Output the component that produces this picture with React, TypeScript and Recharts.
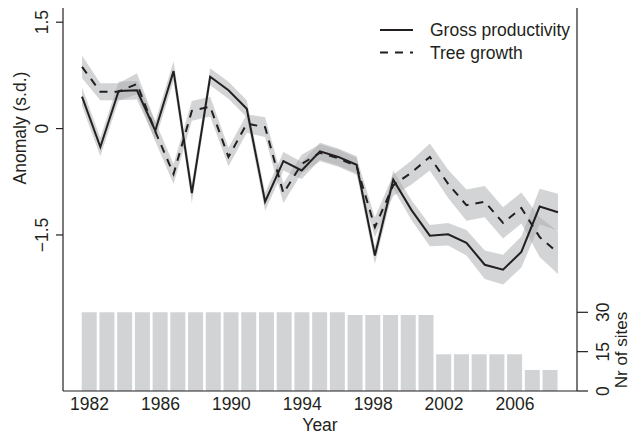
import React from 'react';
import { ComposedChart, Bar, Area, Line, XAxis, YAxis } from 'recharts';

// years on the x axis
const years = [
  1982, 1983, 1984, 1985, 1986, 1987, 1988, 1989, 1990, 1991, 1992, 1993, 1994, 1995,
  1996, 1997, 1998, 1999, 2000, 2001, 2002, 2003, 2004, 2005, 2006, 2007, 2008
];

// gross productivity anomaly (s.d.) and its band
const gpp = [
  0.45, -0.26, 0.53, 0.54, -0.03, 0.81, -0.91, 0.73, 0.54, 0.28, -1.03, -0.46, -0.59, -0.32,
  -0.4, -0.51, -1.79, -0.72, -1.15, -1.51, -1.49, -1.61, -1.92, -1.99, -1.74, -1.1, -1.18
];
const gppLow = [
  0.32, -0.39, 0.4, 0.41, -0.16, 0.67, -1.05, 0.61, 0.42, 0.16, -1.16, -0.59, -0.71, -0.44,
  -0.52, -0.63, -1.91, -0.85, -1.29, -1.66, -1.65, -1.79, -2.12, -2.2, -1.96, -1.35, -1.44
];
const gppHigh = [
  0.58, -0.13, 0.66, 0.67, 0.1, 0.95, -0.77, 0.85, 0.66, 0.4, -0.9, -0.33, -0.47, -0.2,
  -0.28, -0.39, -1.67, -0.59, -1.01, -1.36, -1.33, -1.43, -1.72, -1.78, -1.52, -0.85, -0.92
];

// tree growth anomaly (s.d.) and its band
const tree = [
  0.87, 0.52, 0.52, 0.63, -0.04, -0.64, 0.25, 0.31, -0.4, 0.07, 0.02, -0.91, -0.5, -0.34,
  -0.42, -0.53, -1.39, -0.8, -0.62, -0.4, -0.78, -1.08, -1.03, -1.33, -1.12, -1.53, -1.75
];
const treeLow = [
  0.71, 0.4, 0.4, 0.48, -0.18, -0.78, 0.11, 0.17, -0.53, -0.06, -0.12, -1.05, -0.63, -0.46,
  -0.54, -0.65, -1.53, -0.95, -0.79, -0.59, -0.98, -1.3, -1.25, -1.55, -1.34, -1.81, -2.05
];
const treeHigh = [
  1.03, 0.64, 0.64, 0.78, 0.1, -0.5, 0.39, 0.45, -0.27, 0.2, 0.16, -0.77, -0.37, -0.22,
  -0.3, -0.41, -1.25, -0.65, -0.45, -0.21, -0.58, -0.86, -0.81, -1.11, -0.9, -1.25, -1.45
];

// number of sites per year
const sites = [
  30, 30, 30, 30, 30, 30, 30, 30, 30, 30, 30, 30, 30, 30, 30,
  29, 29, 29, 29, 29, 14, 14, 14, 14, 14, 8, 8
];

const yearTicks = [1982, 1986, 1990, 1994, 1998, 2002, 2006];
const anomalyTicks = [-1.5, 0, 1.5];
const siteTicks = [0, 15, 30];

const data = years.map((year, i) => ({
  year,
  gpp: gpp[i],
  tree: tree[i],
  gppBand: [gppLow[i], gppHigh[i]],
  treeBand: [treeLow[i], treeHigh[i]],
  sites: sites[i]
}));

const INK = '#231f20';
const FONT = '"Liberation Sans", Arial, Helvetica, sans-serif';
const FS = 17.5;

const fmt = (v: number) => (v < 0 ? `\u2212${Math.abs(v)}` : `${v}`);

const LeftTick = ({ y, payload }: any) => (
  <text
    x={42}
    y={y}
    transform={`rotate(-90, 42, ${y})`}
    textAnchor="middle"
    dominantBaseline="central"
    fontFamily={FONT}
    fontSize={FS}
    fill={INK}
  >
    {fmt(payload.value)}
  </text>
);

const RightTick = ({ y, payload }: any) => (
  <text
    x={603}
    y={y}
    transform={`rotate(-90, 603, ${y})`}
    textAnchor="middle"
    dominantBaseline="central"
    fontFamily={FONT}
    fontSize={FS}
    fill={INK}
  >
    {payload.value}
  </text>
);

const BottomTick = ({ x, payload }: any) => (
  <text x={x} y={410} textAnchor="middle" fontFamily={FONT} fontSize={FS} fill={INK}>
    {payload.value}
  </text>
);

const App = () => {
  return (
    <div style={{ position: 'absolute', left: 0, top: 0, width: 632, height: 436, background: '#fff' }}>
      <ComposedChart width={632} height={436} data={data} margin={{ top: 8, right: 0, bottom: 0, left: 0 }}>
        <XAxis
          xAxisId="bars"
          dataKey="year"
          type="number"
          domain={[1980.5, 2009.5]}
          allowDataOverflow
          ticks={yearTicks}
          tick={<BottomTick />}
          tickLine={false}
          height={45}
          axisLine={{ stroke: INK, strokeWidth: 1.2 }}
        />
        <XAxis
          xAxisId="lines"
          dataKey="year"
          type="number"
          domain={[1980.96, 2009.04]}
          allowDataOverflow
          hide
        />
        <XAxis
          xAxisId="top"
          orientation="top"
          dataKey="year"
          type="number"
          domain={[1980.5, 2009.5]}
          allowDataOverflow
          height={0}
          tick={false}
          tickLine={false}
          axisLine={{ stroke: INK, strokeWidth: 1.2 }}
        />
        <YAxis
          yAxisId="anom"
          type="number"
          domain={[-3.7, 1.7]}
          allowDataOverflow
          ticks={anomalyTicks}
          width={63}
          tickSize={7}
          tick={<LeftTick />}
          tickLine={{ stroke: INK, strokeWidth: 1.2 }}
          axisLine={{ stroke: INK, strokeWidth: 1.2 }}
        />
        <YAxis
          yAxisId="sites"
          orientation="right"
          type="number"
          domain={[0, 146]}
          allowDataOverflow
          ticks={siteTicks}
          width={55}
          tickSize={11}
          tick={<RightTick />}
          tickLine={{ stroke: INK, strokeWidth: 1.2 }}
          axisLine={{ stroke: INK, strokeWidth: 1.2 }}
        />
        <Bar
          xAxisId="bars"
          yAxisId="sites"
          dataKey="sites"
          fill="#d1d3d4"
          barSize={15}
          isAnimationActive={false}
        />
        <Area
          xAxisId="lines"
          yAxisId="anom"
          type="linear"
          dataKey="gppBand"
          stroke="none"
          fill="#a7a9ac"
          fillOpacity={0.5}
          isAnimationActive={false}
        />
        <Area
          xAxisId="lines"
          yAxisId="anom"
          type="linear"
          dataKey="treeBand"
          stroke="none"
          fill="#a7a9ac"
          fillOpacity={0.5}
          isAnimationActive={false}
        />
        <Line
          xAxisId="lines"
          yAxisId="anom"
          type="linear"
          dataKey="tree"
          stroke={INK}
          strokeWidth={2}
          strokeDasharray="8 7"
          dot={false}
          isAnimationActive={false}
        />
        <Line
          xAxisId="lines"
          yAxisId="anom"
          type="linear"
          dataKey="gpp"
          stroke={INK}
          strokeWidth={2}
          dot={false}
          isAnimationActive={false}
        />
      </ComposedChart>
      <svg
        width={632}
        height={436}
        style={{ position: 'absolute', left: 0, top: 0, pointerEvents: 'none' }}
        fontFamily={FONT}
        fontSize={FS}
        fill={INK}
      >
        {/* legend */}
        <line x1={380} y1={30} x2={413} y2={30} stroke={INK} strokeWidth={2} />
        <text x={430} y={30} dominantBaseline="central">Gross productivity</text>
        <line x1={380} y1={52.5} x2={413} y2={52.5} stroke={INK} strokeWidth={2} strokeDasharray="8 7" />
        <text x={430} y={52.5} dominantBaseline="central">Tree growth</text>
        {/* axis titles */}
        <text x={20} y={128} transform="rotate(-90, 20, 128)" textAnchor="middle" dominantBaseline="central">
          Anomaly (s.d.)
        </text>
        <text x={320} y={431} textAnchor="middle">Year</text>
        <text
          x={621}
          y={350}
          transform="rotate(-90, 621, 350)"
          textAnchor="middle"
          dominantBaseline="central"
          fontSize={17}
        >
          Nr of sites
        </text>
      </svg>
    </div>
  );
};

export default App;
